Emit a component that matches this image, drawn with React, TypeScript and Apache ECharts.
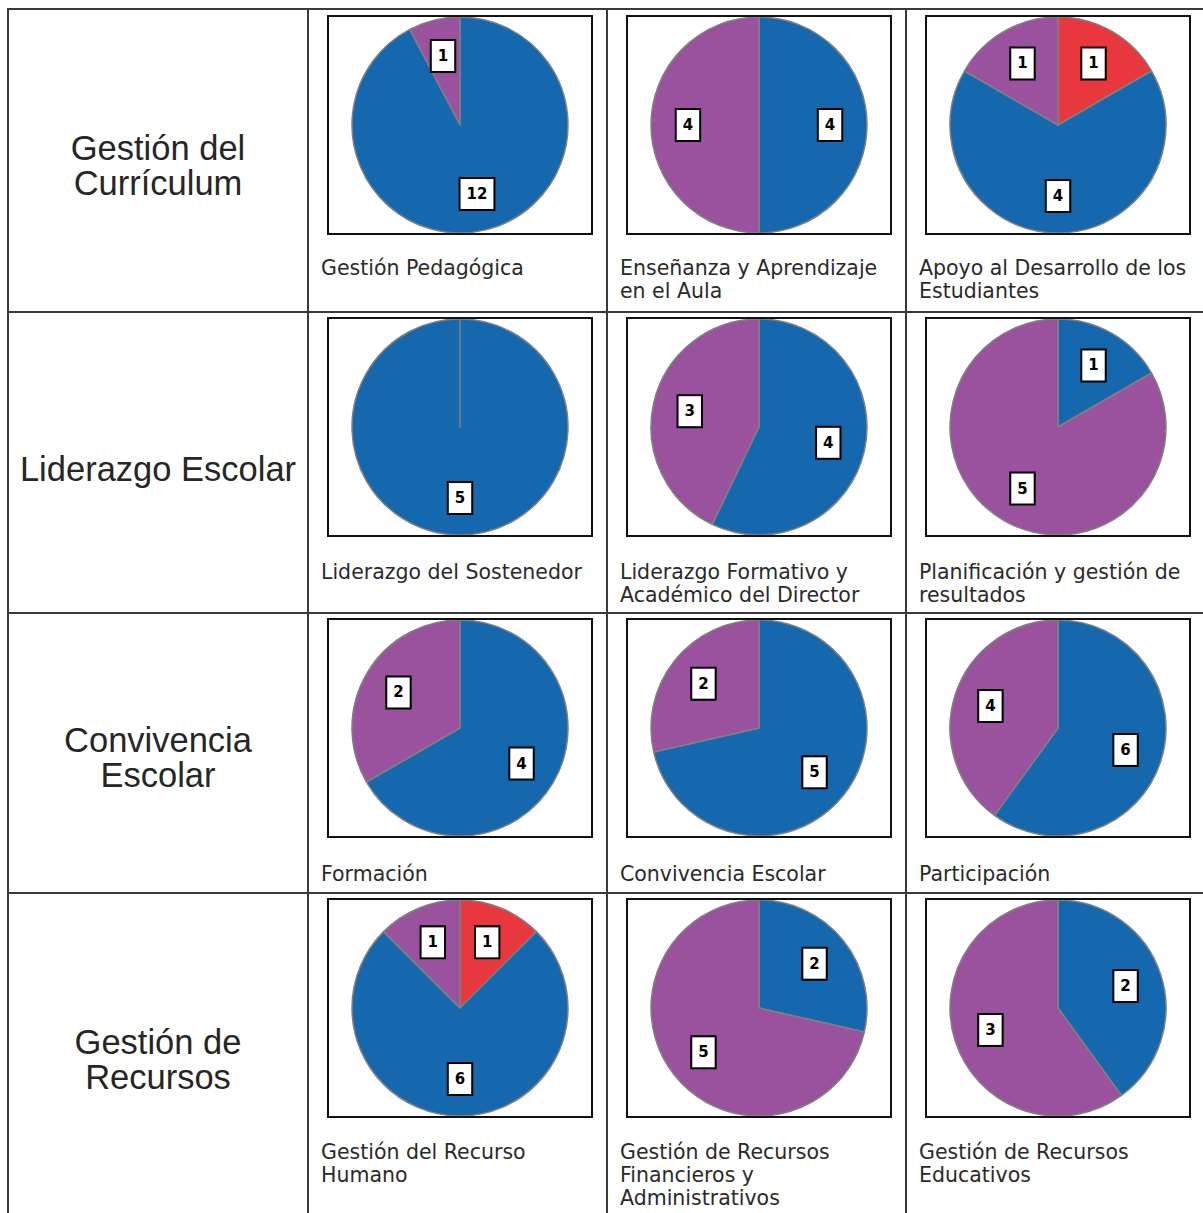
import React, { useEffect, useRef } from "react";
import * as echarts from "echarts";

// ---- data ----
const rowTitles = ["Gestión del\nCurrículum", "Liderazgo Escolar", "Convivencia\nEscolar", "Gestión de\nRecursos"];
const captions = [
  "Gestión Pedagógica",
  "Enseñanza y Aprendizaje\nen el Aula",
  "Apoyo al Desarrollo de los\nEstudiantes",
  "Liderazgo del Sostenedor",
  "Liderazgo Formativo y\nAcadémico del Director",
  "Planificación y gestión de\nresultados",
  "Formación",
  "Convivencia Escolar",
  "Participación",
  "Gestión del Recurso\nHumano",
  "Gestión de Recursos\nFinancieros y\nAdministrativos",
  "Gestión de Recursos\nEducativos",
];
const categories = ["Rojo", "Azul", "Morado"];
const redValues = [0, 0, 1, 0, 0, 0, 0, 0, 0, 1, 0, 0];
const blueValues = [12, 4, 4, 5, 4, 1, 4, 5, 6, 6, 2, 2];
const purpleValues = [1, 4, 1, 0, 3, 5, 2, 2, 4, 1, 5, 3];
const categoryColors = ["#e8383e", "#1568ae", "#9a529f"];

// ---- layout ----
const W = 1203;
const H = 1213;
const rowTops = [9, 312, 613, 893];
const colLefts = [8, 308, 607, 906];
const boxTops = [16, 318, 619, 899];
const boxW = 264;
const boxH = 218;
const captionCenters = [268, 572, 874, 1152];
const rowLabelCenters = [165.5, 469, 757.5, 1059.5];
const pieR = 108;

function buildOption() {
  const graphics: any[] = [];
  // table lines
  rowTops.forEach((y) => {
    graphics.push({ type: "line", shape: { x1: 8, y1: y, x2: W, y2: y }, style: { stroke: "#3a3a3a", lineWidth: 2 } });
  });
  colLefts.forEach((x) => {
    graphics.push({ type: "line", shape: { x1: x, y1: 8, x2: x, y2: H }, style: { stroke: "#3a3a3a", lineWidth: 2 } });
  });
  // row titles
  rowTitles.forEach((t, r) => {
    graphics.push({
      type: "text",
      x: 158,
      y: rowLabelCenters[r],
      style: {
        text: t,
        fontFamily: "Liberation Sans, Arial, sans-serif",
        fontSize: 34.5,
        lineHeight: 35,
        fill: "#262626",
        align: "center",
        verticalAlign: "middle",
      },
    });
  });

  const series: any[] = [];
  captions.forEach((cap, i) => {
    const r = Math.floor(i / 3);
    const c = (i % 3) + 1;
    const bx = colLefts[c] + 20;
    const by = boxTops[r];
    graphics.push({
      type: "rect",
      shape: { x: bx, y: by, width: boxW, height: boxH },
      style: { fill: "none", stroke: "#111", lineWidth: 2 },
      z: 10,
    });
    graphics.push({
      type: "text",
      x: colLefts[c] + 13,
      y: captionCenters[r] - 11.5,
      style: {
        text: cap,
        fontFamily: "DejaVu Sans, sans-serif",
        fontSize: 20.5,
        lineHeight: 23,
        fill: "#2a2a2a",
        align: "left",
        verticalAlign: "top",
      },
    });
    const vals = [redValues[i], blueValues[i], purpleValues[i]];
    const center = [bx + boxW / 2, by + boxH / 2];
    series.push({
      type: "pie",
      center,
      radius: [0, pieR],
      startAngle: 90,
      clockwise: true,
      silent: true,
      avoidLabelOverlap: false,
      label: { show: false },
      labelLine: { show: false },
      emphasis: { disabled: true },
      itemStyle: { borderColor: "#808080", borderWidth: 1.5 },
      data: vals.map((v, k) => ({ name: categories[k], value: v, itemStyle: { color: categoryColors[k] } })),
    });
    series.push({
      type: "pie",
      center,
      radius: [pieR * 0.26, pieR],
      startAngle: 90,
      clockwise: true,
      silent: true,
      avoidLabelOverlap: false,
      labelLine: { show: false },
      emphasis: { disabled: true },
      itemStyle: { color: "transparent", borderWidth: 0 },
      label: {
        show: true,
        position: "inside",
        formatter: "{c}",
        color: "#000",
        fontFamily: "DejaVu Sans, sans-serif",
        fontWeight: "bold",
        fontSize: 15,
        lineHeight: 16,
        backgroundColor: "#fff",
        borderColor: "#000",
        borderWidth: 2,
        padding: [7, 6],
      },
      data: vals.map((v, k) => ({
        name: categories[k],
        value: v,
        label: v === 0 ? { show: false } : undefined,
      })),
      z: 5,
    });
  });

  return {
    animation: false,
    backgroundColor: "#fff",
    graphic: graphics,
    series,
  };
}

export default function App() {
  const ref = useRef<HTMLDivElement>(null);
  useEffect(() => {
    if (!ref.current) return;
    const chart = echarts.init(ref.current, null, { renderer: "svg" });
    chart.setOption(buildOption());
    return () => chart.dispose();
  }, []);
  return <div ref={ref} style={{ position: "absolute", left: 0, top: 0, width: W, height: H }} />;
}
